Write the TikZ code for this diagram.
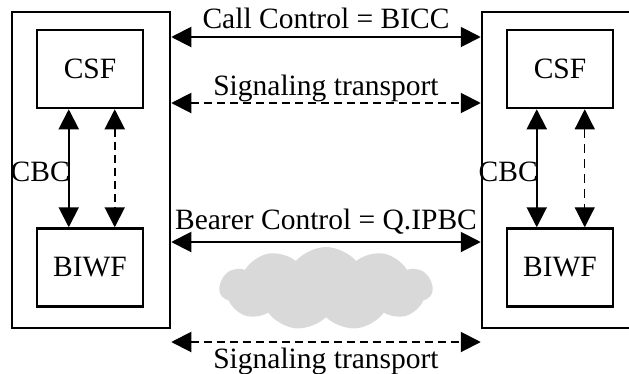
\documentclass[tikz,border=0pt]{standalone}
\usepackage{fontspec}
\setmainfont{Liberation Serif}
\usetikzlibrary{arrows.meta,shapes.symbols}

\begin{document}
\begin{tikzpicture}[x=1pt,y=-1pt,font=\fontsize{29.5}{34}\selectfont]
  \useasboundingbox (0,0) rectangle (629,373);
  \clip (0,0) rectangle (629,373);

  \tikzstyle{sysbox}=[draw,line width=2.5pt,minimum width=158pt,minimum height=316pt,inner sep=0pt]
  \tikzstyle{fbox}=[draw,line width=2.5pt,minimum width=106pt,minimum height=78pt,inner sep=0pt]
  \tikzstyle{link}=[line width=2pt,{Triangle[length=20pt,width=20pt]}-{Triangle[length=20pt,width=20pt]}]
  \tikzstyle{sig}=[link,dash pattern=on 8pt off 5pt]
  \tikzstyle{thinsig}=[link,line width=1.2pt,dash pattern=on 9pt off 6pt]
  \tikzstyle{lbl}=[midway,anchor=base,inner sep=0pt]
  \tikzstyle{cbc}=[midway,anchor=east,inner sep=0pt,xshift=2pt,yshift=-4pt]

  \node[sysbox] (lsys) at (91,170) {};
  \node[sysbox] (rsys) at (561,170) {};

  \node[fbox] (lcsf) at (90,69) {CSF};
  \node[fbox] (lbiwf) at (90,267.5) {BIWF};
  \node[fbox] (rcsf) at (560,69) {CSF};
  \node[fbox] (rbiwf) at (560,267.5) {BIWF};

  \node[cloud,cloud puffs=11,cloud puff arc=100,aspect=2.6,fill=black!15,minimum width=213pt,minimum height=83pt,inner sep=0pt] (net) at (326,288.5) {};

  \draw[link] (lsys.east |- 0,37) -- (rsys.west |- 0,37)
    node[lbl,yshift=9pt] {Call Control = BICC};
  \draw[sig] (lsys.east |- 0,103) -- (rsys.west |- 0,103)
    node[lbl,yshift=8pt] {Signaling transport};
  \draw[link] (lsys.east |- 0,242) -- (rsys.west |- 0,242)
    node[lbl,yshift=13pt] {Bearer Control = Q.IPBC};
  \draw[sig] (lsys.east |- 0,342) -- (rsys.west |- 0,342)
    node[lbl,yshift=-26pt] {Signaling transport};

  \draw[link] ([xshift=33pt]lcsf.south west) -- ([xshift=33pt]lbiwf.north west) node[cbc] {CBC};
  \draw[sig] ([xshift=79pt]lcsf.south west) -- ([xshift=79pt]lbiwf.north west);
  \draw[link] ([xshift=31pt]rcsf.south west) -- ([xshift=31pt]rbiwf.north west) node[cbc] {CBC};
  \draw[thinsig] ([xshift=79pt]rcsf.south west) -- ([xshift=79pt]rbiwf.north west);
\end{tikzpicture}
\end{document}
